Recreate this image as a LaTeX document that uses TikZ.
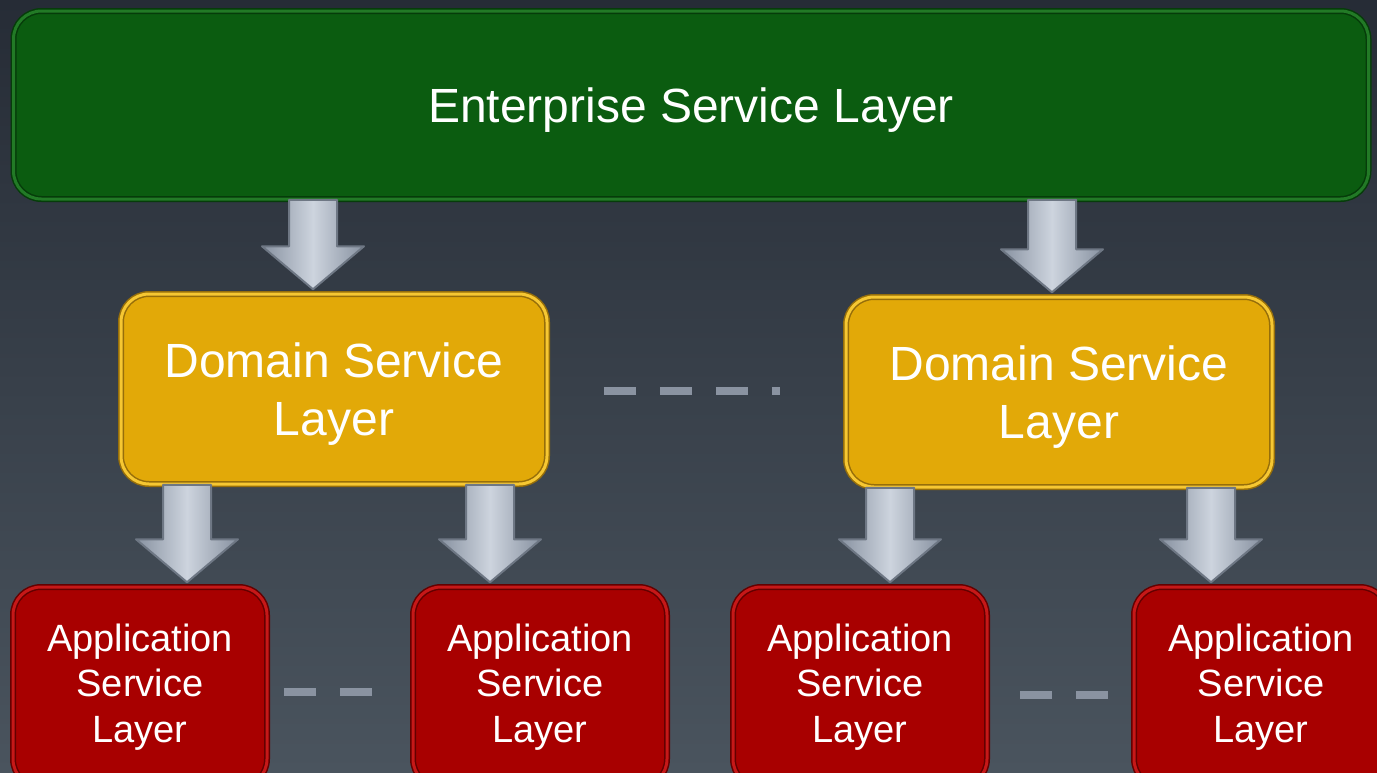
\documentclass[tikz,border=0pt]{standalone}
\usepackage{fontspec}
\setmainfont{Liberation Sans}
\usetikzlibrary{calc}

\definecolor{bgtop}{RGB}{38,44,54}
\definecolor{bgbot}{RGB}{74,84,94}
\definecolor{entfill}{RGB}{11,92,16}
\definecolor{entrim}{RGB}{34,122,38}
\definecolor{entdark}{RGB}{6,60,10}
\definecolor{domfill}{RGB}{226,169,8}
\definecolor{domrim}{RGB}{246,199,50}
\definecolor{domdark}{RGB}{150,110,10}
\definecolor{appfill}{RGB}{168,0,0}
\definecolor{apprim}{RGB}{198,24,24}
\definecolor{appdark}{RGB}{100,0,0}
\definecolor{arwmid}{RGB}{205,212,222}
\definecolor{arwside}{RGB}{135,145,160}
\definecolor{arwedge}{RGB}{110,119,132}
\definecolor{gapcol}{RGB}{138,147,161}

% fat down arrow from #1 to #2 (same x)
\newcommand\fatarrow[2]{%
  \path[arw] let \p1=#1, \p2=#2 in
    (\x1-24pt,\y1) -- (\x1+24pt,\y1) -- (\x1+24pt,\y2+47pt)
    -- (\x1+51pt,\y2+47pt) -- (\x1,\y2+4pt) -- (\x1-51pt,\y2+47pt)
    -- (\x1-24pt,\y2+47pt) -- cycle;}

\begin{document}
\begin{tikzpicture}[x=1pt,y=-1pt,
  layer/.style={rounded corners=28pt, align=center, text=white,
    line width=1.5pt, double distance=3pt},
  ent/.style={layer, draw=entdark, double=entrim, fill=entfill,
    minimum width=1355pt, minimum height=188pt, text depth=-4pt,
    font=\fontsize{48}{57.6}\selectfont},
  dom/.style={layer, draw=domdark, double=domrim, fill=domfill,
    minimum width=426pt, minimum height=190pt, text depth=-2pt,
    font=\fontsize{48}{57.6}\selectfont},
  app/.style={layer, draw=appdark, double=apprim, fill=appfill,
    minimum width=254pt, minimum height=200pt,
    font=\fontsize{38}{45.5}\selectfont},
  arw/.style={draw=arwedge, line width=2pt, line join=round,
    left color=arwside, right color=arwside, middle color=arwmid},
  gap/.style={draw=gapcol, line width=8pt, dash pattern=on 32pt off 24pt}]
\useasboundingbox (0,0) rectangle (1377,772);
\clip (0,0) rectangle (1377,772);
\shade[top color=bgtop, bottom color=bgbot] (0,0) rectangle (1377,772);

\node[ent] (E) at (691,105) {Enterprise Service Layer};
\node[dom] (D1) at (334,389) {Domain Service\\Layer};
\node[dom] (D2) at (1059,392) {Domain Service\\Layer};
\node[app] (A1) at (140,687) {Application\\Service\\Layer};
\node[app] (A2) at (540,687) {Application\\Service\\Layer};
\node[app] (A3) at (860,687) {Application\\Service\\Layer};
\node[app] (A4) at (1261,687) {Application\\Service\\Layer};

\coordinate (x1) at (313,0);
\coordinate (x2) at (1052,0);
\coordinate (x3) at (187,0);
\coordinate (x4) at (490,0);
\coordinate (x5) at (890,0);
\coordinate (x6) at (1211,0);

\fatarrow{(x1 |- E.south)}{(x1 |- D1.north)}
\fatarrow{(x2 |- E.south)}{(x2 |- D2.north)}
\fatarrow{(x3 |- D1.south)}{(x3 |- A1.north)}
\fatarrow{(x4 |- D1.south)}{(x4 |- A2.north)}
\fatarrow{(x5 |- D2.south)}{(x5 |- A3.north)}
\fatarrow{(x6 |- D2.south)}{(x6 |- A4.north)}

\draw[gap] ([xshift=56,yshift=-2]D1.east) -- ([xshift=-65,yshift=1]D2.west);
\draw[gap] ([xshift=16,yshift=-5]A1.east) -- ([xshift=-40,yshift=-5]A2.west);
\draw[gap] ([xshift=32,yshift=-8]A3.east) -- ([xshift=-25,yshift=-8]A4.west);
\end{tikzpicture}
\end{document}
